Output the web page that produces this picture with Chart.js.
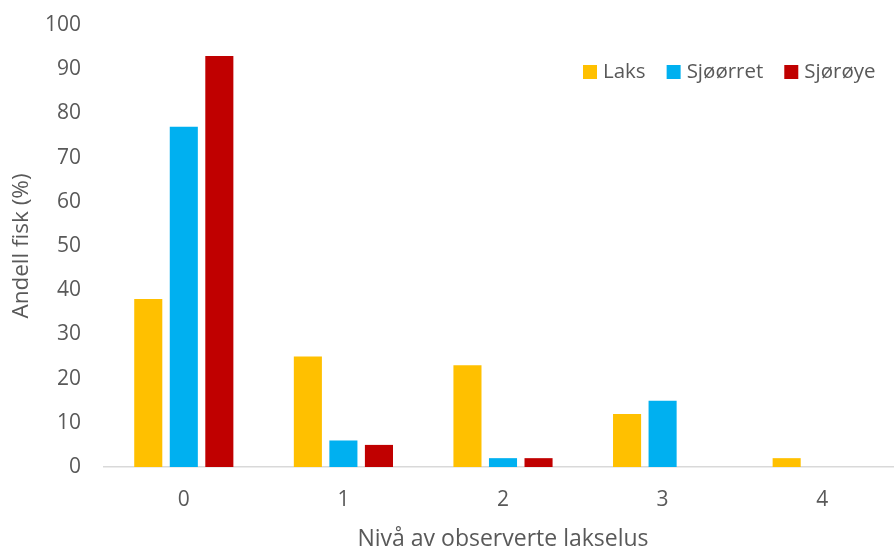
<!DOCTYPE html>
<html>
<head>
<meta charset="utf-8">
<script src="https://cdn.jsdelivr.net/npm/chart.js@4/dist/chart.umd.min.js"></script>
<style>
  html, body { margin: 0; padding: 0; background: #fff; overflow: hidden; }
  #wrap { width: 902px; height: 560px; }
</style>
</head>
<body>
<div id="wrap"><canvas id="c" width="902" height="560"></canvas></div>
<script>
// Nivå av observerte lakselus (kategorier)
const levels = ['0', '1', '2', '3', '4'];

// Andel fisk (%) per art og lusnivå
const laks = [38, 25, 23, 12, 2];
const sjoorret = [77, 6, 2, 15, 0];
const sjoroye = [93, 5, 2, 0, 0];

const seriesNames = ['Laks', 'Sjøørret', 'Sjørøye'];
const seriesColors = ['#FFC000', '#00B0F0', '#C00000'];

const yTicks = { min: 0, max: 100, step: 10 };

const textColor = '#595959';
const fontFamily = '"Open Sans", "Noto Sans", sans-serif';

// Egen tegnforklaring øverst til høyre i plottområdet
const insideLegend = {
  id: 'insideLegend',
  afterDraw(chart) {
    const ctx = chart.ctx;
    const items = chart.data.datasets.map(d => ({ label: d.label, color: d.backgroundColor }));
    const box = 14;
    const gapBoxText = 6;
    const gapItems = 21;
    ctx.save();
    ctx.font = '20.5px ' + fontFamily;
    ctx.textBaseline = 'middle';
    ctx.textAlign = 'left';
    let x = 583;
    const yMid = 72;
    items.forEach(it => {
      ctx.fillStyle = it.color;
      ctx.fillRect(x, yMid - box / 2, box, box);
      x += box + gapBoxText;
      ctx.fillStyle = textColor;
      ctx.fillText(it.label, x, yMid);
      x += ctx.measureText(it.label).width + gapItems;
    });
    ctx.restore();
  }
};

const values = [laks, sjoorret, sjoroye];

new Chart(document.getElementById('c'), {
  type: 'bar',
  data: {
    labels: levels,
    datasets: values.map((v, i) => ({
      label: seriesNames[i],
      data: v,
      backgroundColor: seriesColors[i],
      borderWidth: 0,
      categoryPercentage: 0.668,
      barPercentage: 0.79
    }))
  },
  options: {
    responsive: false,
    animation: false,
    layout: { padding: { top: 25, right: 0, bottom: 0, left: 0 } },
    plugins: {
      legend: { display: false },
      tooltip: { enabled: false }
    },
    scales: {
      x: {
        grid: { display: false, drawTicks: false },
        border: { display: true, color: '#D9D9D9', width: 1.5 },
        ticks: { color: textColor, font: { family: fontFamily, size: 21 }, padding: 20 },
        title: {
          display: true,
          text: 'Nivå av observerte lakselus',
          color: textColor,
          font: { family: fontFamily, size: 23 },
          padding: { top: 0, bottom: 7 }
        },
        afterFit(s) { s.height = 93; s.paddingLeft = 0; s.paddingRight = 0; }
      },
      y: {
        min: yTicks.min,
        max: yTicks.max,
        grid: { display: false, drawTicks: false },
        border: { display: false },
        ticks: {
          stepSize: yTicks.step,
          color: textColor,
          font: { family: fontFamily, size: 21 },
          padding: 23
        },
        title: {
          display: true,
          text: 'Andell fisk (%)',
          color: textColor,
          font: { family: fontFamily, size: 22.5 },
          padding: { top: 8, bottom: 0 }
        },
        afterFit(s) { s.width = 104; s.paddingTop = 0; s.paddingBottom = 0; }
      }
    }
  },
  plugins: [insideLegend]
});
</script>
</body>
</html>
